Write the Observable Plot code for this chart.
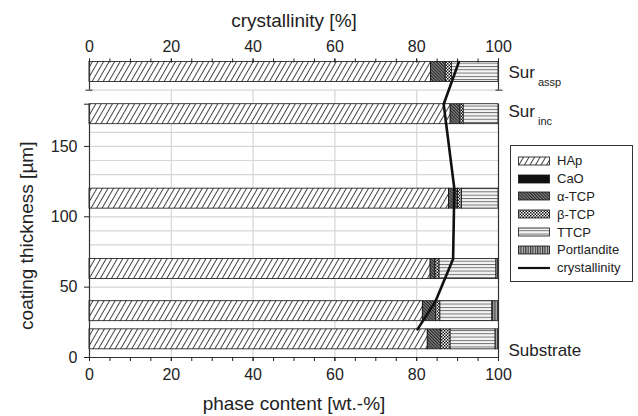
<!DOCTYPE html>
<html><head><meta charset="utf-8">
<script src="https://cdn.jsdelivr.net/npm/d3@7"></script>
<script src="https://cdn.jsdelivr.net/npm/@observablehq/plot@0.6"></script>
<style>
body{margin:0;background:#fff;font-family:"Liberation Sans",Arial,Helvetica,sans-serif;}
#wrap{position:relative;width:638px;height:416px;overflow:hidden;}
#legend{position:absolute;left:510px;top:145px;width:123px;height:137px;border:1px solid #333;background:#fff;font-size:13px;color:#222;box-sizing:border-box;padding-top:6px;}
#legend .row{height:17.8px;display:flex;align-items:center;}
#legend svg{margin-left:7px;margin-right:7px;flex:none;}
</style></head><body>
<svg width="0" height="0" style="position:absolute">
<defs>
<pattern id="p-hap" patternUnits="userSpaceOnUse" width="4.8" height="10" patternTransform="rotate(30)">
<rect width="4.8" height="10" fill="#fff"/><line x1="0.5" y1="-1" x2="0.5" y2="11" stroke="#111" stroke-width="0.8"/></pattern>
<pattern id="p-cao" patternUnits="userSpaceOnUse" width="4" height="4">
<rect width="4" height="4" fill="#111"/></pattern>
<pattern id="p-atcp" patternUnits="userSpaceOnUse" width="2.2" height="10" patternTransform="rotate(-45)">
<rect width="2.2" height="10" fill="#8a8a8a"/><line x1="0.6" y1="-1" x2="0.6" y2="11" stroke="#222" stroke-width="1.1"/></pattern>
<pattern id="p-btcp" patternUnits="userSpaceOnUse" width="3" height="3">
<rect width="3" height="3" fill="#fff"/><rect width="1.5" height="1.5" fill="#111"/><rect x="1.5" y="1.5" width="1.5" height="1.5" fill="#111"/></pattern>
<pattern id="p-ttcp" patternUnits="userSpaceOnUse" width="10" height="3.3">
<rect width="10" height="3.3" fill="#f4f4f4"/><line x1="0" y1="0.5" x2="10" y2="0.5" stroke="#444" stroke-width="0.8"/></pattern>
<pattern id="p-port" patternUnits="userSpaceOnUse" width="2.4" height="10">
<rect width="2.4" height="10" fill="#bbb"/><line x1="0.6" y1="0" x2="0.6" y2="10" stroke="#222" stroke-width="1"/></pattern>
</defs>
</svg>
<div id="wrap"><div id="chart"></div><div id="legend"></div></div>
<script>
// ---- data ----
const layerNames = ["Substrate", "coating 40 µm", "coating 70 µm", "coating 120 µm", "Sur_inc", "Sur_assp"];
const layerDepth = [20, 40, 70, 120, 180, 210];   // µm (top of each measured layer; Sur_assp on broken axis)
const phases = ["HAp", "CaO", "α-TCP", "β-TCP", "TTCP", "Portlandite"];
const HAp         = [82.7, 81.5, 83.4, 87.9, 88.3, 83.5];
const CaO         = [0, 0, 0, 0, 0, 0];
const aTCP        = [3.3, 3.2, 1.2, 2.2, 2.4, 3.6];
const bTCP        = [2.3, 1.1, 1.0, 1.0, 0.8, 1.5];
const TTCP        = [11.0, 12.7, 13.9, 8.9, 8.5, 11.4];
const Portlandite = [0.7, 1.5, 0.5, 0, 0, 0];
const crystallinity = [80.2, 84.6, 88.9, 89.2, 86.6, 90.3];
const xTicks = [0, 20, 40, 60, 80, 100];
const xMinorTicks = [0, 5, 10, 15, 20, 25, 30, 35, 40, 45, 50, 55, 60, 65, 70, 75, 80, 85, 90, 95, 100];
const yTicks = [0, 50, 100, 150];
const gridXValues = [20, 40, 60, 80];
const gridYValues = [10, 20, 30, 40, 50, 60, 70, 80, 90, 100, 110, 120, 130, 140, 150, 160, 170, 190];

// ---- styling ----
const barThickness = 14.2;
const patternIds = ["p-hap", "p-cao", "p-atcp", "p-btcp", "p-ttcp", "p-port"];
const phaseValues = [HAp, CaO, aTCP, bTCP, TTCP, Portlandite];
const FONT = "Liberation Sans, Arial, Helvetica, sans-serif";

const rows = [];
layerNames.forEach((name, i) => {
  let acc = 0;
  phases.forEach((ph, j) => {
    const v = phaseValues[j][i];
    rows.push({layer: name, phase: ph, pi: j, x1: acc, x2: acc + v, top: layerDepth[i]});
    acc += v;
  });
});
const crystRows = layerDepth.map((d, i) => ({c: crystallinity[i], depth: d}));

const barMarks = phases.map((ph, j) =>
  Plot.rectX(rows.filter(r => r.pi === j && r.x2 > r.x1), {
    x1: "x1", x2: "x2", y1: r => r.top - barThickness, y2: "top",
    fill: `url(#${patternIds[j]})`, stroke: "#111", strokeWidth: 0.8
  })
);
const mid = i => layerDepth[i] - barThickness / 2;

const chart = Plot.plot({
  width: 638, height: 416,
  marginLeft: 89, marginRight: 140, marginTop: 61.5, marginBottom: 59,
  x: {domain: [0, 100], axis: null},
  y: {domain: [0, 210], axis: null},
  style: {fontFamily: FONT, fontSize: "16px", color: "#222", background: "#fff"},
  marks: [
    Plot.ruleX(gridXValues, {y1: 0, y2: 190, stroke: "#d6d6d6", strokeWidth: 1.2}),
    Plot.ruleY(gridYValues, {x1: 0, x2: 100, stroke: "#d6d6d6", strokeWidth: 1.2}),
    ...barMarks,
    // frame lines (broken axis)
    Plot.ruleX([0, 100], {y1: 0, y2: 180, stroke: "#333", strokeWidth: 1.2}),
    Plot.ruleX([0, 100], {y1: 190, y2: 210, stroke: "#333", strokeWidth: 1.2}),
    Plot.ruleY([0], {x1: 0, x2: 100, stroke: "#333", strokeWidth: 1.2}),
    // axes
    Plot.axisX({anchor: "bottom", ticks: xMinorTicks, tickSize: 4, tickFormat: () => "", label: null}),
    Plot.axisX({anchor: "bottom", ticks: xTicks, tickSize: 4, tickPadding: 7, label: null, fontSize: 16}),
    Plot.axisX({anchor: "top", ticks: xMinorTicks, tickSize: 4, tickFormat: () => "", label: null}),
    Plot.axisX({anchor: "top", ticks: xTicks, tickSize: 4, tickPadding: 6, label: null, fontSize: 16}),
    Plot.axisY({anchor: "left", ticks: yTicks, tickSize: 5, tickPadding: 7, label: null, fontSize: 16}),
    Plot.axisY({anchor: "left", ticks: [180], tickSize: 5, tickFormat: () => "", label: null}),
    Plot.axisY({anchor: "left", ticks: [190], tickSize: 7, dx: 3.5, tickFormat: () => "", label: null}),
    Plot.axisY({anchor: "right", ticks: [190], tickSize: 7, dx: -3.5, tickFormat: () => "", label: null}),
    // crystallinity line
    Plot.line(crystRows, {x: "c", y: "depth", curve: "linear", stroke: "#111", strokeWidth: 2.6, strokeLinejoin: "round"}),
    // axis titles
    Plot.text(["phase content [wt.-%]"], {frameAnchor: "bottom", lineAnchor: "middle", dy: 46, fontSize: 19, fill: "#222"}),
    Plot.text(["crystallinity [%]"], {frameAnchor: "top", lineAnchor: "middle", dy: -41.5, fontSize: 19, fill: "#222"}),
    Plot.text(["coating thickness [µm]"], {frameAnchor: "left", textAnchor: "middle", lineAnchor: "middle", dx: -63, dy: 26, rotate: -90, fontSize: 19, fill: "#222"}),
    // layer labels
    Plot.text([5], {x: () => 100, y: mid, text: () => "Sur", textAnchor: "start", dx: 10, dy: 0.5, fontSize: 17, fill: "#222"}),
    Plot.text([5], {x: () => 100, y: mid, text: () => "assp", textAnchor: "start", dx: 39.5, dy: 10.5, fontSize: 11, fill: "#222"}),
    Plot.text([4], {x: () => 100, y: mid, text: () => "Sur", textAnchor: "start", dx: 10, dy: -3, fontSize: 17, fill: "#222"}),
    Plot.text([4], {x: () => 100, y: mid, text: () => "inc", textAnchor: "start", dx: 39.5, dy: 7, fontSize: 11, fill: "#222"}),
    Plot.text([0], {x: () => 100, y: mid, text: () => "Substrate", textAnchor: "start", dx: 10, dy: 11, fontSize: 17, fill: "#222"})
  ]
});
document.getElementById("chart").appendChild(chart);

// legend
const legend = d3.select("#legend");
phases.forEach((ph, j) => {
  const row = legend.append("div").attr("class", "row");
  const s = row.append("svg").attr("width", 32).attr("height", 10);
  s.append("rect").attr("x", 0.5).attr("y", 1).attr("width", 31).attr("height", 8)
    .attr("fill", `url(#${patternIds[j]})`).attr("stroke", "#111").attr("stroke-width", 0.8);
  row.append("span").text(ph);
});
const lrow = legend.append("div").attr("class", "row");
lrow.append("svg").attr("width", 32).attr("height", 10)
  .append("line").attr("x1", 0).attr("x2", 32).attr("y1", 5).attr("y2", 5).attr("stroke", "#111").attr("stroke-width", 2.2);
lrow.append("span").text("crystallinity");
</script>
</body></html>
